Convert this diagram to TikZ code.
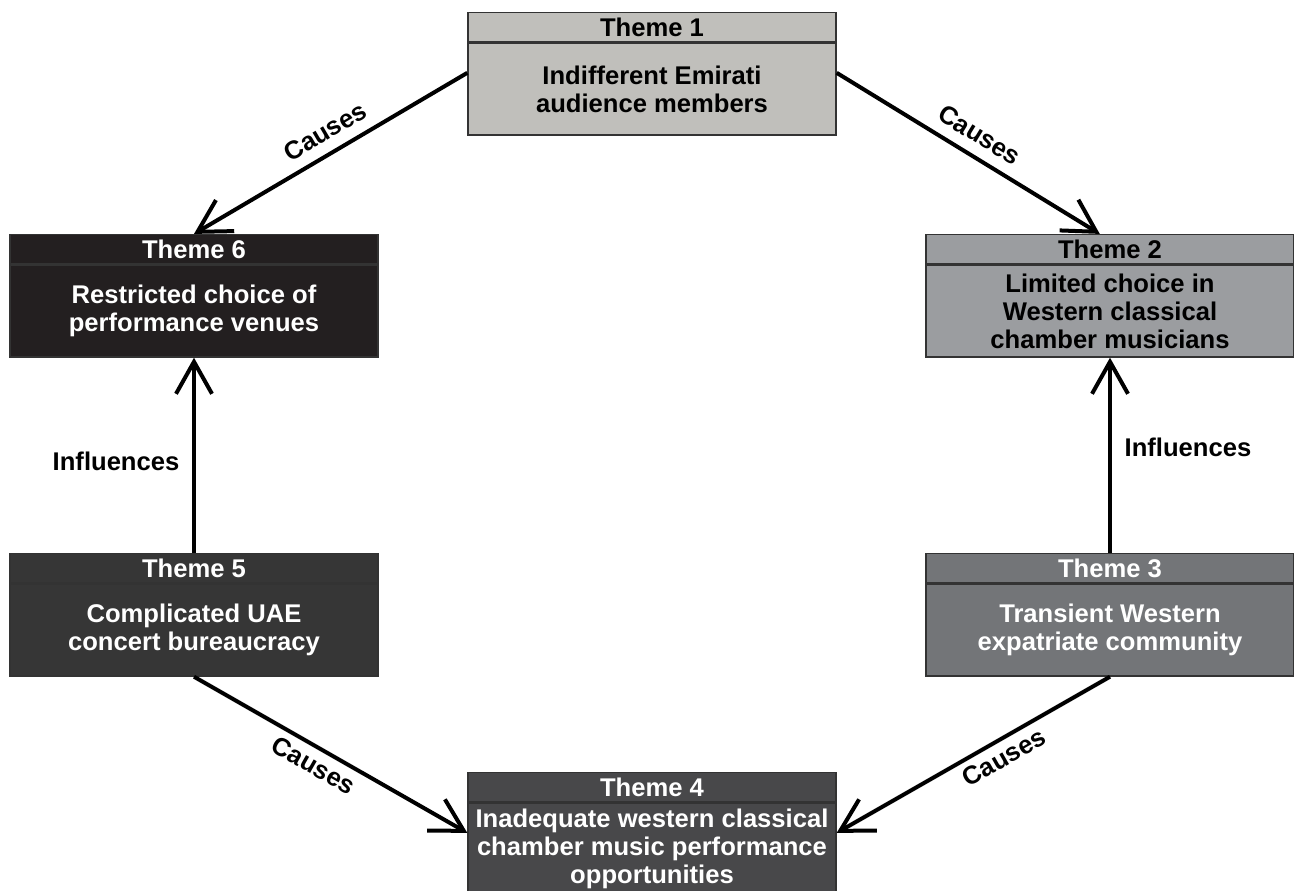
\documentclass[tikz,border=0pt]{standalone}
\usepackage{fontspec}
\setmainfont{Liberation Sans}
\usetikzlibrary{positioning,arrows.meta}
\definecolor{themeA}{HTML}{C0BFBB}
\definecolor{themeB}{HTML}{9B9DA0}
\definecolor{themeC}{HTML}{737578}
\definecolor{themeD}{HTML}{48484A}
\definecolor{themeE}{HTML}{363636}
\definecolor{themeF}{HTML}{231F20}
\newcommand\themefont{\bfseries\fontsize{12.8}{14}\selectfont}
\tikzset{
	theme/.style={draw=black!80, line width=0.7pt, minimum width=184pt, inner sep=0pt, align=center, font=\themefont},
	head/.style={theme, minimum height=14.5pt},
	body/.style={theme, minimum height=46pt},
	link/.style={line width=2pt, -{Straight Barb[length=16pt,width=18pt]}},
	tag/.style={font=\themefont, sloped}
}
\begin{document}
\begin{tikzpicture}[x=0.5pt,y=-0.5pt]
		\useasboundingbox (0,0) rectangle (1294,890);
		\node[body, fill=themeA] (t1) at (652,89) {Indifferent Emirati\\audience members};
		\node[head, fill=themeA, above=0pt of t1] (h1) {Theme 1};
		\node[body, fill=themeB] (t2) at (1110,311) {Limited choice in\\Western classical\\chamber musicians};
		\node[head, fill=themeB, above=0pt of t2] (h2) {Theme 2};
		\node[body, fill=themeC, text=white] (t3) at (1110,630) {Transient Western\\expatriate community};
		\node[head, fill=themeC, text=white, above=0pt of t3] (h3) {Theme 3};
		\node[body, fill=themeD, text=white] (t4) at (652,849) {Inadequate western classical\\chamber music performance\\opportunities};
		\node[head, fill=themeD, text=white, above=0pt of t4] (h4) {Theme 4};
		\node[body, fill=themeE, text=white] (t5) at (194,630) {Complicated UAE\\concert bureaucracy};
		\node[head, fill=themeE, text=white, above=0pt of t5] (h5) {Theme 5};
		\node[body, fill=themeF, text=white] (t6) at (194,311) {Restricted choice of\\performance venues};
		\node[head, fill=themeF, text=white, above=0pt of t6] (h6) {Theme 6};

		\draw[link] (t1.175) -- node[tag, above=2pt, pos=0.48] {Causes} (h6.north);
		\draw[link] (t1.5) -- node[tag, above=2pt, pos=0.5] {Causes} (h2.124);
		\draw[link] (h5.north) -- node[pos=0.47, left=3pt, font=\themefont] {Influences} (t6.south);
		\draw[link] (h3.north) -- node[pos=0.54, right=3pt, font=\themefont] {Influences} (t2.south);
		\draw[link] (t5.south) -- node[tag, below, pos=0.47] {Causes} (t4.175);
		\draw[link] (t3.south) -- node[tag, below, pos=0.42] {Causes} (t4.5);
	\end{tikzpicture}
\end{document}
